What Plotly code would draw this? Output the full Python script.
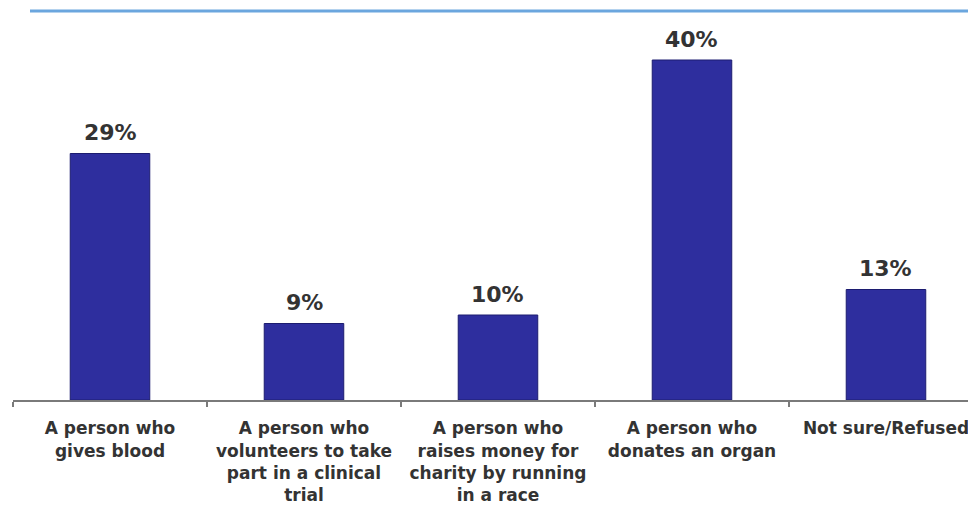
import plotly.graph_objects as go

categories = [
    "A person who<br>gives blood",
    "A person who<br>volunteers to take<br>part in a clinical<br>trial",
    "A person who<br>raises money for<br>charity by running<br>in a race",
    "A person who<br>donates an organ",
    "Not sure/Refused",
]
values = [29, 9, 10, 40, 13]
value_labels = ["29%", "9%", "10%", "40%", "13%"]

fig = go.Figure(
    go.Bar(
        x=categories,
        y=values,
        marker=dict(color="#2E2E9E", line=dict(color="#1C1C70", width=1)),
        hoverinfo="skip",
    )
)

annotations = [
    dict(
        x=c,
        y=v,
        xref="x",
        yref="y",
        text=t,
        showarrow=False,
        yanchor="middle",
        yshift=21,
        font=dict(family="DejaVu Sans", size=22, color="#333333", weight="bold"),
    )
    for c, v, t in zip(categories, values, value_labels)
]

fig.update_layout(
    width=968,
    height=506,
    margin=dict(l=5, r=0, t=2, b=114),
    paper_bgcolor="white",
    plot_bgcolor="white",
    bargap=0.59,
    showlegend=False,
    annotations=annotations,
    xaxis=dict(
        type="category",
        range=[-0.5, 4.464],
        showline=True,
        linecolor="#7a7a7a",
        linewidth=2,
        ticks="outside",
        tickson="boundaries",
        ticklen=5,
        tickwidth=1.5,
        tickcolor="#7a7a7a",
        ticklabelstandoff=12,
        tickfont=dict(family="DejaVu Sans", size=17, color="#333333", weight="bold"),
        showgrid=False,
        fixedrange=True,
    ),
    yaxis=dict(
        range=[0, 390 / 8.5],
        visible=False,
        showgrid=False,
        zeroline=False,
        fixedrange=True,
    ),
    shapes=[
        dict(
            type="line",
            xref="paper",
            yref="paper",
            x0=(30 - 13) / 963,
            x1=1,
            y0=(400 - 11) / 390,
            y1=(400 - 11) / 390,
            line=dict(color="#6BA6DE", width=3),
        )
    ],
)

fig.write_html("out.html")
